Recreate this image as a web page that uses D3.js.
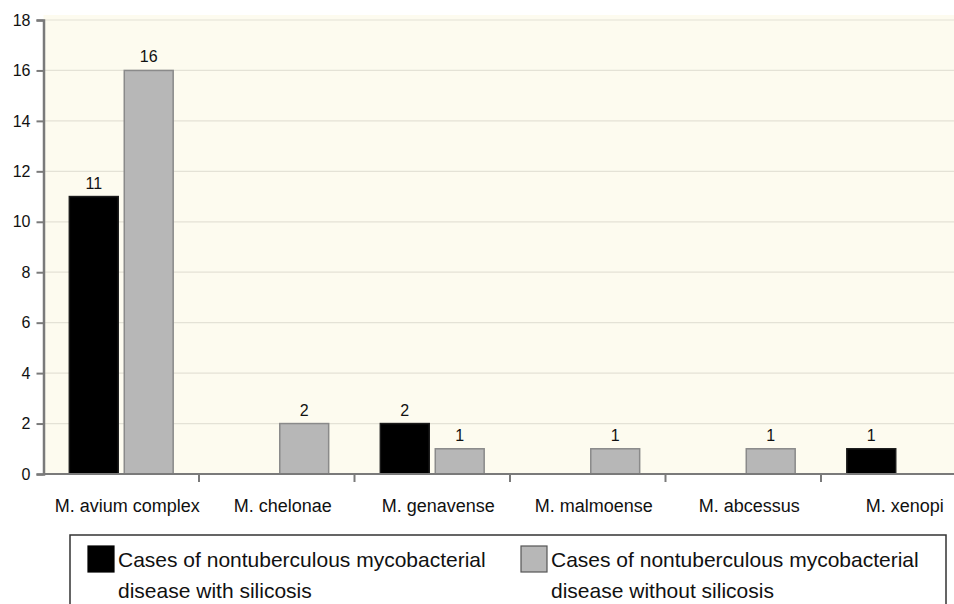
<!DOCTYPE html>
<html>
<head>
<meta charset="utf-8">
<script src="https://cdn.jsdelivr.net/npm/d3@7"></script>
<style>
  html, body { margin: 0; padding: 0; background: #ffffff; }
  svg { display: block; font-family: "Liberation Sans", Arial, Helvetica, sans-serif; }
</style>
</head>
<body>
<svg id="chart" width="954" height="604"></svg>
<script>
const categories = ["M. avium complex", "M. chelonae", "M. genavense", "M. malmoense", "M. abcessus", "M. xenopi"];
const withSilicosis = [11, 0, 2, 0, 0, 1];
const withoutSilicosis = [16, 2, 1, 1, 1, 0];
const seriesNames = ["Cases of nontuberculous mycobacterial disease with silicosis",
                     "Cases of nontuberculous mycobacterial disease without silicosis"];
const legendLines = [["Cases of nontuberculous mycobacterial", "disease with silicosis"],
                     ["Cases of nontuberculous mycobacterial", "disease without silicosis"]];
const yTicks = [0, 2, 4, 6, 8, 10, 12, 14, 16, 18];

const svg = d3.select("#chart");
const W = 954;
const plotLeft = 43.5, plotTop = 20, plotBottom = 474;
const step = 155.5;

const x0 = d3.scaleBand().domain(categories).range([plotLeft, plotLeft + step * categories.length]).padding(0);
const x1 = d3.scaleBand().domain([0, 1]).range([0, x0.bandwidth()]).paddingInner(0.11).paddingOuter(0.47);
const y = d3.scaleLinear().domain([0, 18]).range([plotBottom, plotTop]);

const fills = ["#000000", "#b7b7b7"];
const strokes = ["#1a1a1a", "#8a8a8a"];

// plot background
svg.append("rect").attr("x", plotLeft).attr("y", y(18) - 5).attr("width", W - plotLeft).attr("height", plotBottom - y(18) + 5)
  .attr("fill", "#fdfbef");

// gridlines
svg.append("g").selectAll("line").data(yTicks.filter(d => d > 0)).join("line")
  .attr("x1", plotLeft).attr("x2", W).attr("y1", d => y(d)).attr("y2", d => y(d))
  .attr("stroke", "#e4e2d6").attr("stroke-width", 1.2);

// bars
const rows = categories.map((c, i) => ({ c, v: [withSilicosis[i], withoutSilicosis[i]] }));
const groups = svg.append("g").selectAll("g").data(rows).join("g")
  .attr("transform", d => `translate(${x0(d.c)},0)`);
groups.selectAll("rect").data(d => d.v.map((v, k) => ({ v, k })).filter(e => e.v > 0)).join("rect")
  .attr("x", e => x1(e.k)).attr("width", x1.bandwidth())
  .attr("y", e => y(e.v)).attr("height", e => y(0) - y(e.v))
  .attr("fill", e => fills[e.k]).attr("stroke", e => strokes[e.k]).attr("stroke-width", 1.5);
groups.selectAll("text").data(d => d.v.map((v, k) => ({ v, k })).filter(e => e.v > 0)).join("text")
  .attr("x", e => x1(e.k) + x1.bandwidth() / 2).attr("y", e => y(e.v) - 8)
  .attr("text-anchor", "middle").attr("font-size", 16).attr("fill", "#111")
  .text(e => e.v);

// y axis
const yAxis = d3.axisLeft(y).tickValues(yTicks).tickSize(7).tickPadding(6);
const gy = svg.append("g").attr("transform", `translate(${plotLeft},0)`).call(yAxis);
gy.select(".domain").attr("stroke", "#7a7a7a").attr("stroke-width", 2.5);
gy.selectAll(".tick line").attr("stroke", "#7a7a7a").attr("stroke-width", 2);
gy.selectAll(".tick text").attr("font-size", 16).attr("fill", "#111").attr("font-family", "Liberation Sans, Arial, sans-serif");

// x axis
const xAxis = d3.axisBottom(x0).tickSize(0).tickPadding(25);
const gx = svg.append("g").attr("transform", `translate(0,${plotBottom})`).call(xAxis);
gx.select(".domain").remove();
svg.append("line").attr("x1", plotLeft).attr("x2", W).attr("y1", plotBottom).attr("y2", plotBottom)
  .attr("stroke", "#7a7a7a").attr("stroke-width", 2);
gx.selectAll(".tick text").attr("font-size", 18).attr("fill", "#111").attr("font-family", "Liberation Sans, Arial, sans-serif")
  .attr("dy", "0.71em").attr("dx", 6);
// separators between categories
svg.append("g").selectAll("line").data(categories.slice(1)).join("line")
  .attr("x1", d => x0(d)).attr("x2", d => x0(d)).attr("y1", plotBottom).attr("y2", plotBottom + 8)
  .attr("stroke", "#7a7a7a").attr("stroke-width", 2);

// legend
const lg = svg.append("g");
lg.append("rect").attr("x", 70).attr("y", 535).attr("width", 876).attr("height", 90)
  .attr("fill", "#fff").attr("stroke", "#333").attr("stroke-width", 1.5);
const legendX = [88, 521];
seriesNames.forEach((name, k) => {
  const g = lg.append("g").attr("transform", `translate(${legendX[k]},546)`);
  g.append("rect").attr("width", 26).attr("height", 26).attr("fill", fills[k]).attr("stroke", k ? "#555" : "#000").attr("stroke-width", 1.2);
  g.append("text").attr("x", 30).attr("y", 21).attr("font-size", 21).attr("fill", "#111")
    .selectAll("tspan").data(legendLines[k]).join("tspan")
    .attr("x", 30).attr("dy", (d, i) => i ? 31 : 0).text(d => d);
});
</script>
</body>
</html>
